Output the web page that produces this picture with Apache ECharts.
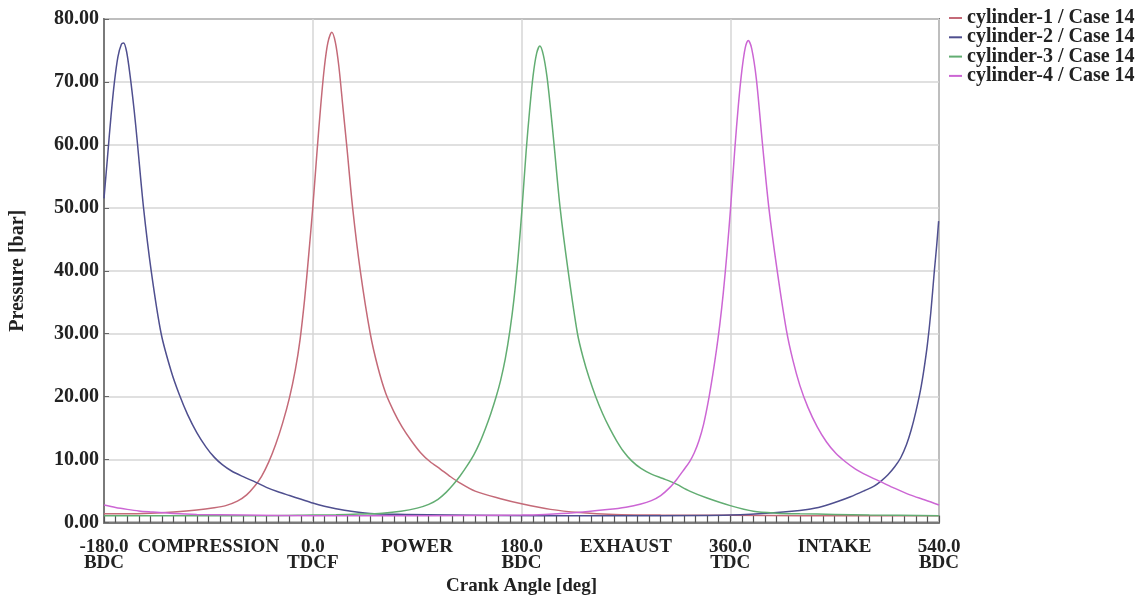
<!DOCTYPE html>
<html>
<head>
<meta charset="utf-8">
<script src="https://cdn.jsdelivr.net/npm/echarts@6/dist/echarts.min.js"></script>
<style>html,body{margin:0;padding:0;background:#fff;}#chart{width:1137px;height:601px;}</style>
</head>
<body>
<div id="chart"></div>
<script>
// ---- data ----
const seriesNames = ['cylinder-1 / Case 14', 'cylinder-2 / Case 14', 'cylinder-3 / Case 14', 'cylinder-4 / Case 14'];

const cylinder1 = [[-180,1.4],[-160,1.4],[-140,1.5],[-120,1.7],[-100,2.0],[-85,2.35],[-75,2.7],[-65,3.4],[-57,4.4],[-50,5.8],[-44,7.4],[-38,9.6],[-32,12.4],[-26,15.8],[-20,19.9],[-15,24.3],[-11,29.0],[-7,35.5],[-3.5,42.5],[0,50.0],[3.5,58.5],[7,66.5],[10,72.3],[13,76.2],[16.4,77.9],[19.5,76.3],[22.5,72.5],[26,66.0],[29.5,59.5],[34.4,50.0],[41,40.0],[49.6,30.0],[56,24.8],[63,20.5],[70,17.6],[77,15.2],[85,13.0],[93,11.1],[101,9.7],[110,8.5],[118,7.4],[126,6.4],[140,5.0],[162,3.8],[180,3.0],[205,2.1],[230,1.6],[260,1.3],[300,1.2],[360,1.15],[420,1.1],[480,1.1],[540,1.1]];

const cylinder2 = [[-180,51.5],[-177,58.0],[-174,64.5],[-171,70.0],[-168,74.0],[-165,76.0],[-163.1,76.2],[-160.5,74.8],[-157.5,71.0],[-154,65.5],[-151.3,60.5],[-145.9,50],[-139.3,40],[-130.7,30],[-122,24.0],[-115,20.3],[-108,17.2],[-100,14.3],[-92,12.0],[-85,10.4],[-78,9.2],[-70,8.2],[-60,7.3],[-49,6.4],[-40,5.6],[-30,4.9],[-20,4.3],[-10,3.7],[0,3.1],[10,2.6],[20,2.2],[33,1.8],[53,1.4],[80,1.3],[120,1.2],[200,1.1],[300,1.1],[360,1.2],[397.6,1.55],[426.4,2.07],[440,2.6],[452,3.3],[463.7,4.1],[476,5.1],[484,5.8],[490,6.6],[496,7.6],[502,8.9],[507,10.3],[512,12.4],[516,14.7],[520,17.6],[524,21.0],[527,24.3],[530,28.3],[533,33.5],[536,40.0],[538,44.0],[539.7,47.9]];

const cylinder3 = [[-180,1.1],[-100,1.1],[-40,1.1],[0,1.2],[20,1.25],[40,1.35],[60,1.5],[76,1.8],[90,2.3],[100,2.9],[108,3.7],[115,4.8],[121,6.0],[127,7.4],[133,9.0],[139,10.8],[144,12.7],[149,15.0],[153.5,17.3],[158,19.9],[162,22.6],[166,26.0],[170,30.5],[173.5,35.5],[177,42.0],[180.3,49.5],[184,59.0],[187,65.5],[190,71.0],[193,74.5],[195.8,75.7],[198.8,74.3],[202,70.8],[205,65.8],[208.1,60],[213.3,50],[220.2,40],[228.3,30],[233,26.3],[238.3,23.0],[244,20.0],[250,17.3],[256,15.0],[262,13.0],[268,11.3],[275,9.8],[283,8.6],[292,7.7],[302,7.0],[311.5,6.3],[325,5.0],[340,3.9],[360,2.7],[380,1.8],[400,1.5],[420,1.4],[450,1.3],[480,1.2],[540,1.1]];

const cylinder4 = [[-180,2.8],[-170,2.4],[-160,2.1],[-150,1.85],[-140,1.7],[-120,1.45],[-100,1.3],[-60,1.2],[0,1.1],[100,1.1],[180,1.2],[200,1.3],[225,1.55],[254,2.07],[270,2.45],[283,2.95],[292,3.5],[300,4.3],[308,5.6],[314,6.9],[320,8.4],[325,9.7],[329,11.1],[333,13.0],[337,15.6],[341,19.2],[345,23.6],[348,27.3],[351,31.5],[354,36.5],[357,42.5],[360.3,50.0],[364,59.5],[367,66.3],[370,71.8],[373,75.5],[375.5,76.6],[378.5,75.3],[382.5,70.5],[387.6,60.5],[393.3,50],[400.5,40],[408.5,30.5],[414,25.8],[420,21.8],[427,18.3],[435,15.2],[443,12.8],[451,11.0],[459,9.7],[468,8.5],[478,7.5],[489.6,6.5],[500,5.6],[515,4.4],[528,3.6],[540,2.8]];

const xTickValues = [-180, -90, 0, 90, 180, 270, 360, 450, 540];
const xTickLabels = ['-180.0\nBDC', 'COMPRESSION', '0.0\nTDCF', 'POWER', '180.0\nBDC', 'EXHAUST', '360.0\nTDC', 'INTAKE', '540.0\nBDC'];

// ---- chart ----
const FONT = '"Liberation Serif", "Times New Roman", serif';
const colors = ['#c46a78', '#4f4f8f', '#62ad72', '#cc66d4'];
const seriesData = [cylinder1, cylinder2, cylinder3, cylinder4];

const chart = echarts.init(document.getElementById('chart'), null, {renderer: 'canvas'});
chart.setOption({
  animation: false,
  backgroundColor: '#ffffff',
  color: colors,
  grid: {left: 103, right: 198, top: 19, bottom: 73, show: true, borderColor: '#7a7a7a', borderWidth: 2, backgroundColor: 'transparent'},
  legend: {
    orient: 'vertical', left: 944, top: 3, itemGap: -0.7, itemWidth: 13, itemHeight: 2,
    icon: 'rect',
    textStyle: {fontFamily: FONT, fontSize: 20, fontWeight: 'bold', color: '#222'},
    data: seriesNames
  },
  xAxis: [
    {
      type: 'value', min: -180, max: 540, interval: 90,
      name: 'Crank Angle [deg]', nameLocation: 'middle', nameGap: 52,
      nameTextStyle: {fontFamily: FONT, fontSize: 19, fontWeight: 'bold', color: '#222'},
      axisLine: {show: true, onZero: false, lineStyle: {color: '#7a7a7a', width: 2}},
      axisTick: {show: true, inside: true, length: 7, lineStyle: {color: '#555', width: 1.2}},
      minorTick: {show: true, splitNumber: 9, length: 7, lineStyle: {color: '#555', width: 1.2}},
      splitLine: {show: false},
      axisLabel: {
        margin: 16, fontFamily: FONT, fontSize: 19, fontWeight: 'bold', color: '#222', lineHeight: 16,
        formatter: function (v) { const i = xTickValues.indexOf(v); return i >= 0 ? xTickLabels[i] : ''; }
      }
    },
    {
      type: 'value', min: -180, max: 540, interval: 180, position: 'bottom',
      axisLine: {show: false, onZero: false}, axisTick: {show: false}, axisLabel: {show: false},
      splitLine: {show: true, lineStyle: {color: '#d6d6d6', width: 1.5}}
    }
  ],
  yAxis: {
    type: 'value', min: 0, max: 80, interval: 10,
    name: 'Pressure [bar]', nameLocation: 'middle', nameGap: 76,
    nameTextStyle: {fontFamily: FONT, fontSize: 20, fontWeight: 'bold', color: '#222'},
    axisLine: {show: true, onZero: false, lineStyle: {color: '#7a7a7a', width: 2}},
    axisTick: {show: true, inside: true, length: 5, lineStyle: {color: '#666'}},
    splitLine: {show: true, lineStyle: {color: '#d6d6d6', width: 1.5}},
    axisLabel: {margin: 5, fontFamily: FONT, fontSize: 20, fontWeight: 'bold', color: '#222',
      formatter: function (v) { return v.toFixed(2); }}
  },
  series: seriesData.map(function (d, i) {
    return {
      name: seriesNames[i], type: 'line', data: d, xAxisIndex: 0,
      showSymbol: false, symbol: 'none', smooth: 0.3,
      lineStyle: {width: 1.5, color: colors[i]}, itemStyle: {color: colors[i]}, z: 3
    };
  })
});
</script>
</body>
</html>
